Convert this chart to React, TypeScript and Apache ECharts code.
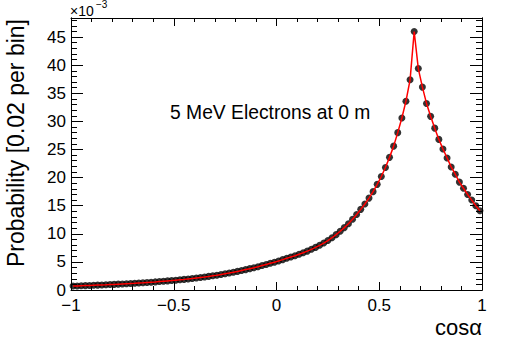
import React, { useEffect, useRef } from "react";
import * as echarts from "echarts";

// Histogram binning (0.02 per bin from -1 to 1)
const binLow = -1;
const binWidth = 0.02;

// Probability per bin, in units of 1e-3
const probability: number[] = [
  0.70, 0.72, 0.75, 0.78, 0.81, 0.84, 0.87, 0.90, 0.93, 0.97,
  1.00, 1.04, 1.08, 1.12, 1.16, 1.20, 1.25, 1.29, 1.34, 1.39,
  1.44, 1.50, 1.56, 1.62, 1.68, 1.75, 1.82, 1.89, 1.97, 2.05,
  2.14, 2.23, 2.32, 2.42, 2.53, 2.64, 2.76, 2.89, 3.02, 3.16,
  3.31, 3.47, 3.63, 3.80, 3.97, 4.15, 4.35, 4.55, 4.75, 4.95,
  5.17, 5.40, 5.64, 5.88, 6.10, 6.35, 6.62, 6.92, 7.24, 7.58,
  7.95, 8.35, 8.80, 9.30, 9.85, 10.45, 11.10, 11.80, 12.60, 13.45,
  14.35, 15.30, 16.35, 17.50, 18.80, 20.20, 21.80, 23.60, 25.60, 28.00,
  30.60, 33.60, 37.40, 46.00, 39.40, 36.10, 33.20, 30.90, 28.80, 26.80,
  25.10, 23.50, 21.90, 20.60, 19.20, 18.10, 17.00, 16.00, 15.00, 14.10,
];

const cosAlpha: number[] = probability.map((_, i) =>
  +(binLow + binWidth * (i + 0.5)).toFixed(2)
);

const xTicks = { min: -1, max: 1, interval: 0.5 };
const yTicks = { min: 0, max: 48.4, interval: 5 };

const FONT = "'Liberation Sans', Arial, Helvetica, sans-serif";

const fmtX = (v: number) => (v < 0 ? "\u2212" + Math.abs(v) : String(v));

export default function App() {
  const ref = useRef<HTMLDivElement>(null);
  useEffect(() => {
    if (!ref.current) return;
    const chart = echarts.init(ref.current, null, { renderer: "svg" });
    const data = cosAlpha.map((x, i) => [x, probability[i]]);
    const black = { color: "#000", width: 1 };
    const baseX = {
      type: "value" as const,
      min: xTicks.min,
      max: xTicks.max,
      interval: xTicks.interval,
      splitLine: { show: false },
      axisLine: { show: true, onZero: false, lineStyle: black },
      axisTick: { show: true, inside: true, length: 8, lineStyle: black },
      minorTick: { show: true, splitNumber: 5, length: 4, lineStyle: black },
    };
    const baseY = (position: "left" | "right", interval: number, len: number, labels: boolean) => ({
      type: "value" as const,
      position,
      min: yTicks.min,
      max: yTicks.max,
      interval,
      splitLine: { show: false },
      axisLine: { show: true, onZero: false, lineStyle: black },
      axisTick: { show: true, inside: true, length: len, lineStyle: black },
      axisLabel: labels
        ? {
            show: true,
            showMaxLabel: false,
            fontSize: 17,
            fontFamily: FONT,
            color: "#000",
            margin: 5,
            formatter: (v: number) => (Math.abs(v % 5) < 1e-9 ? String(v) : ""),
          }
        : { show: false },
    });
    chart.setOption({
      animation: false,
      backgroundColor: "#fff",
      grid: { left: 71, right: 26, top: 18, bottom: 56, show: false },
      xAxis: [
        {
          ...baseX,
          position: "bottom",
          axisLabel: { show: true, fontSize: 17, fontFamily: FONT, color: "#000", margin: 7, formatter: fmtX },
        },
        { ...baseX, position: "top", axisLabel: { show: false } },
      ],
      yAxis: [
        baseY("left", yTicks.interval, 12, true),
        baseY("left", 1, 6, false),
        baseY("right", yTicks.interval, 12, false),
        baseY("right", 1, 6, false),
      ],
      series: [
        {
          type: "scatter",
          xAxisIndex: 0,
          yAxisIndex: 0,
          data,
          symbol: "circle",
          symbolSize: 7,
          itemStyle: { color: "#000" },
          silent: true,
          z: 2,
        },
        {
          type: "line",
          xAxisIndex: 0,
          yAxisIndex: 0,
          data,
          showSymbol: false,
          lineStyle: { color: "#ff0000", width: 1.5 },
          silent: true,
          z: 3,
        },
      ],
      graphic: [
        {
          type: "text",
          x: 16,
          y: 19,
          rotation: Math.PI / 2,
          style: {
            text: "Probability [0.02 per bin]",
            fontSize: 23,
            fontFamily: FONT,
            fill: "#000",
            align: "right",
            verticalAlign: "middle",
          },
        },
        {
          type: "text",
          x: 482,
          y: 327,
          style: {
            text: "cos\u03b1",
            fontSize: 22,
            fontFamily: FONT,
            fill: "#000",
            align: "right",
            verticalAlign: "middle",
          },
        },
        {
          type: "text",
          x: 170,
          y: 112,
          style: {
            text: "5 MeV Electrons at 0 m",
            fontSize: 19.3,
            fontFamily: FONT,
            fill: "#000",
            align: "left",
            verticalAlign: "middle",
          },
        },
        {
          type: "text",
          x: 70,
          y: 11,
          style: {
            text: "\u00d710",
            fontSize: 14,
            fontFamily: FONT,
            fill: "#000",
            align: "left",
            verticalAlign: "middle",
          },
        },
        {
          type: "text",
          x: 96,
          y: 4,
          style: {
            text: "\u22123",
            fontSize: 10,
            fontFamily: FONT,
            fill: "#000",
            align: "left",
            verticalAlign: "middle",
          },
        },
      ],
    });
    return () => chart.dispose();
  }, []);
  return (
    <div
      ref={ref}
      style={{ position: "absolute", left: 0, top: 0, width: 508, height: 346 }}
    />
  );
}
